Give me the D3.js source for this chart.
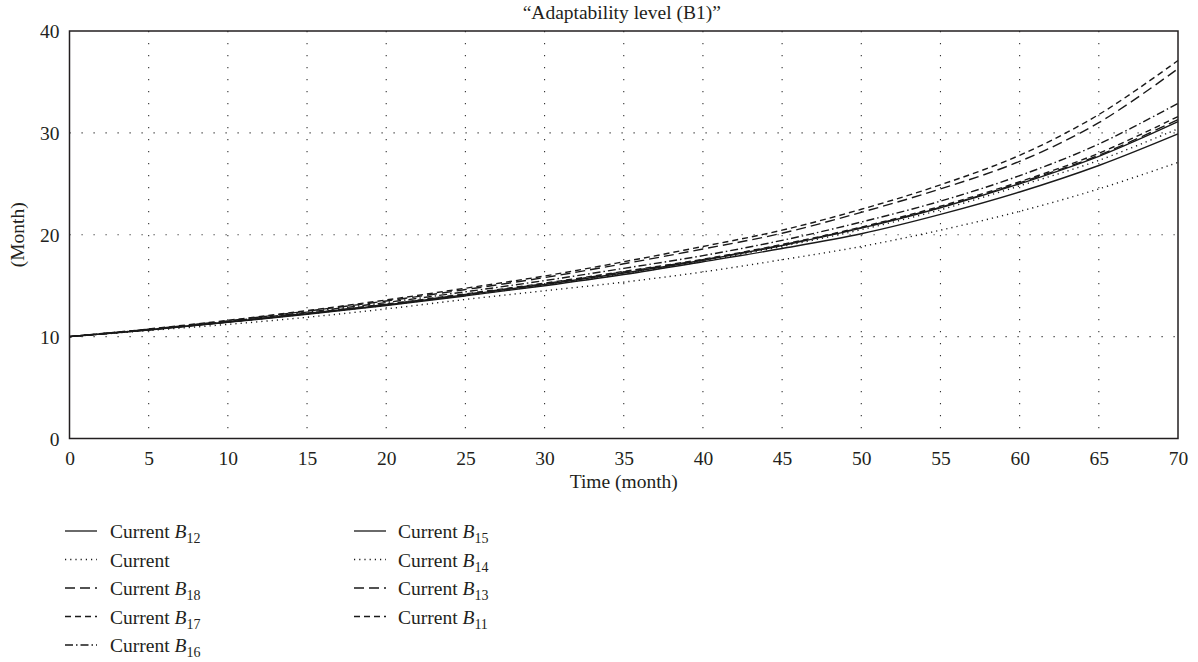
<!DOCTYPE html>
<html>
<head>
<meta charset="utf-8">
<script src="https://cdn.jsdelivr.net/npm/d3@7"></script>
<style>
  html, body { margin: 0; padding: 0; background: #fff; }
  svg { display: block; }
  text { font-family: "Liberation Serif", "DejaVu Serif", serif; fill: #231f20; }
</style>
</head>
<body>
<svg id="chart" width="1198" height="662"></svg>
<script>
// ---- data ----
const months = [0, 5, 10, 15, 20, 25, 30, 35, 40, 45, 50, 55, 60, 65, 70];
const xTicks = [0, 5, 10, 15, 20, 25, 30, 35, 40, 45, 50, 55, 60, 65, 70];
const yTicks = [0, 10, 20, 30, 40];

const currentB12 = [10, 10.65, 11.4, 12.2, 13.05, 14.0, 15.0, 16.1, 17.35, 18.65, 20.1, 22.0, 24.2, 26.8, 29.9];
const current    = [10, 10.6, 11.2, 11.9, 12.72, 13.65, 14.5, 15.35, 16.35, 17.55, 18.85, 20.45, 22.3, 24.5, 27.1];
const currentB18 = [10, 10.72, 11.55, 12.5, 13.5, 14.62, 15.8, 17.15, 18.6, 20.15, 22.2, 24.5, 27.2, 31.0, 36.3];
const currentB17 = [10, 10.75, 11.6, 12.55, 13.6, 14.75, 15.95, 17.35, 18.85, 20.45, 22.5, 24.9, 27.8, 31.8, 37.1];
const currentB16 = [10, 10.7, 11.5, 12.4, 13.35, 14.4, 15.5, 16.7, 17.95, 19.45, 21.25, 23.3, 25.8, 28.9, 32.9];
const currentB15 = [10, 10.67, 11.43, 12.25, 13.12, 14.1, 15.12, 16.25, 17.5, 18.95, 20.65, 22.65, 25.0, 27.7, 31.1];
const currentB14 = [10, 10.66, 11.42, 12.22, 13.08, 14.05, 15.05, 16.15, 17.4, 18.85, 20.5, 22.45, 24.8, 27.3, 30.4];
const currentB13 = [10, 10.68, 11.44, 12.28, 13.17, 14.15, 15.2, 16.35, 17.55, 19.0, 20.7, 22.7, 25.1, 27.8, 31.3];
const currentB11 = [10, 10.69, 11.46, 12.3, 13.2, 14.2, 15.25, 16.4, 17.6, 19.05, 20.75, 22.8, 25.2, 28.0, 31.6];

const seriesNames = ["B12", "", "B18", "B17", "B16", "B15", "B14", "B13", "B11"];
const seriesValues = [currentB12, current, currentB18, currentB17, currentB16, currentB15, currentB14, currentB13, currentB11];
const seriesDash = ["none", "1.2,4", "10,5", "6,4", "8,3,1.5,3", "none", "1.2,4", "10,5", "6,4"];

const title = "\u201CAdaptability level (B1)\u201D";
const xLabel = "Time (month)";
const yLabel = "(Month)";

// ---- layout ----
const FS = "19.5px";
const svg = d3.select("#chart");
const L = 69.5, R = 1178, T = 31, B = 438.5;
const x = d3.scaleLinear().domain([0, 70]).range([L, R]);
const y = d3.scaleLinear().domain([0, 40]).range([B, T]);

// grid
const g = svg.append("g");
g.selectAll("line.vg").data(xTicks.filter(d => d > 0 && d < 70)).enter().append("line")
  .attr("x1", d => x(d)).attr("x2", d => x(d)).attr("y1", T).attr("y2", B)
  .attr("stroke", "#333").attr("stroke-width", 1.1).attr("stroke-dasharray", "1.2,10.8");
g.selectAll("line.hg").data(yTicks.filter(d => d > 0 && d < 40)).enter().append("line")
  .attr("x1", L).attr("x2", R).attr("y1", d => y(d)).attr("y2", d => y(d))
  .attr("stroke", "#333").attr("stroke-width", 1.1).attr("stroke-dasharray", "1.2,10.8");

// series
const line = d3.line().x((d, i) => x(months[i])).y(d => y(d)).curve(d3.curveCatmullRom.alpha(0.5));
seriesValues.forEach((vals, k) => {
  svg.append("path").datum(vals)
    .attr("d", line)
    .attr("fill", "none")
    .attr("stroke", "#1a1a1a")
    .attr("stroke-width", 1.4)
    .attr("stroke-dasharray", seriesDash[k]);
});

// frame
svg.append("rect").attr("x", L).attr("y", T).attr("width", R - L).attr("height", B - T)
  .attr("fill", "none").attr("stroke", "#231f20").attr("stroke-width", 1.5);

// axes
const xAxis = d3.axisBottom(x).tickValues(xTicks).tickSize(0).tickPadding(0).tickFormat(d3.format("d"));
const xa = svg.append("g").attr("transform", `translate(0,${B})`).call(xAxis);
xa.select(".domain").remove();
xa.selectAll("text").attr("y", 26).attr("dy", null).style("font-size", FS)
  .style("font-family", "Liberation Serif").attr("fill", "#231f20");

const yAxis = d3.axisLeft(y).tickValues(yTicks).tickSize(0).tickPadding(0).tickFormat(d3.format("d"));
const ya = svg.append("g").attr("transform", `translate(${L},0)`).call(yAxis);
ya.select(".domain").remove();
ya.selectAll("text").attr("x", -10).attr("dy", "0.34em").style("font-size", FS)
  .style("font-family", "Liberation Serif").attr("fill", "#231f20");

// titles
svg.append("text").attr("x", (L + R) / 2 - 2).attr("y", 19).attr("text-anchor", "middle")
  .style("font-size", FS).text(title);
svg.append("text").attr("x", (L + R) / 2).attr("y", 488).attr("text-anchor", "middle")
  .style("font-size", FS).text(xLabel);
svg.append("text").attr("transform", `translate(24,${(T + B) / 2}) rotate(-90)`)
  .attr("text-anchor", "middle").style("font-size", FS).text(yLabel);

// legend
const cols = [{lx: 65, tx: 110}, {lx: 354, tx: 398}];
const rowY = [538, 566.5, 595, 623.5, 652];
seriesNames.forEach((name, k) => {
  const c = k < 5 ? cols[0] : cols[1];
  const r = k < 5 ? k : k - 5;
  const by = rowY[r];
  svg.append("line").attr("x1", c.lx).attr("x2", c.lx + 32).attr("y1", by - 7).attr("y2", by - 7)
    .attr("stroke", "#1a1a1a").attr("stroke-width", 1.3).attr("stroke-dasharray", seriesDash[k]);
  const t = svg.append("text").attr("x", c.tx).attr("y", by).style("font-size", FS);
  t.append("tspan").text("Current");
  if (name) {
    t.append("tspan").text(" ");
    t.append("tspan").style("font-style", "italic").text(name.charAt(0));
    t.append("tspan").attr("dy", 5).style("font-size", "14px").text(name.slice(1));
  }
});
</script>
</body>
</html>
